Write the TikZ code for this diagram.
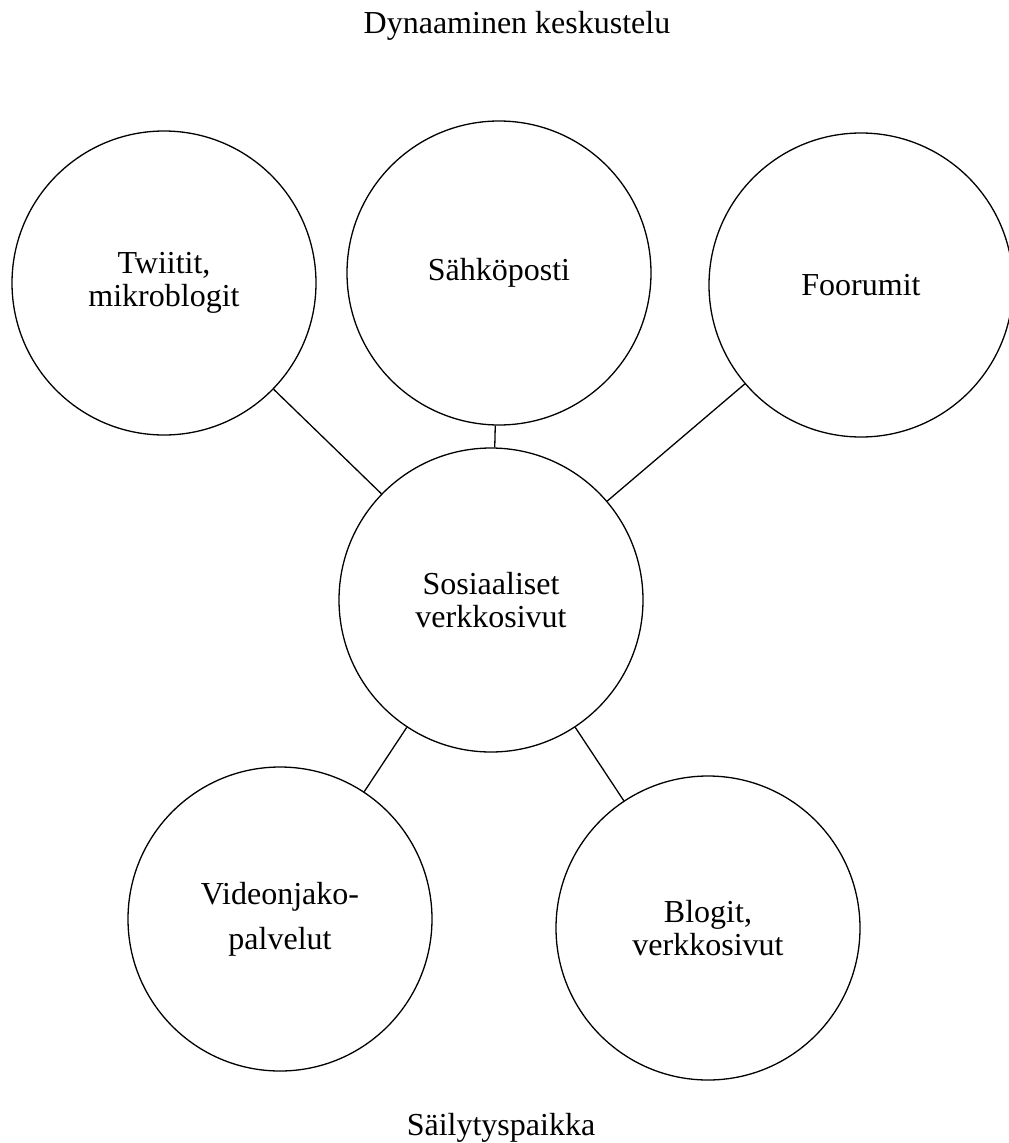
\documentclass[tikz,border=0pt]{standalone}
\usepackage{fontspec}
\setmainfont{Liberation Serif}
\begin{document}
\begin{tikzpicture}[x=1pt,y=-1pt,
  bubble/.style={circle,draw=black,line width=1.3pt,minimum size=304pt,inner sep=0pt,align=center,
    font=\fontsize{32}{33}\selectfont},
  conn/.style={draw=black,line width=1.3pt},
  caption/.style={font=\fontsize{32}{33}\selectfont,anchor=base}]
\useasboundingbox (0,0) rectangle (1009,1143);
\node[caption] (title) at (517,33) {Dynaaminen keskustelu};
\node[caption] (bottom) at (501,1135) {Säilytyspaikka};
\node[bubble] (tw) at (164,283) {Twiitit,\\mikroblogit};
\node[bubble] (sp) at (499,273) {Sähköposti};
\node[bubble] (fo) at (861,285) {Foorumit};
\node[bubble] (so) at (491,600) {Sosiaaliset\\verkkosivut};
\node[bubble] (vi) at (280,919) {Videonjako-\\[12pt]palvelut};
\node[bubble] (bl) at (708,928) {Blogit,\\verkkosivut};
\draw[conn] (so) -- (tw);
\draw[conn] (so) -- (sp);
\draw[conn] (so) -- (fo);
\draw[conn] (so) -- (vi);
\draw[conn] (so) -- (bl);
\end{tikzpicture}
\end{document}
